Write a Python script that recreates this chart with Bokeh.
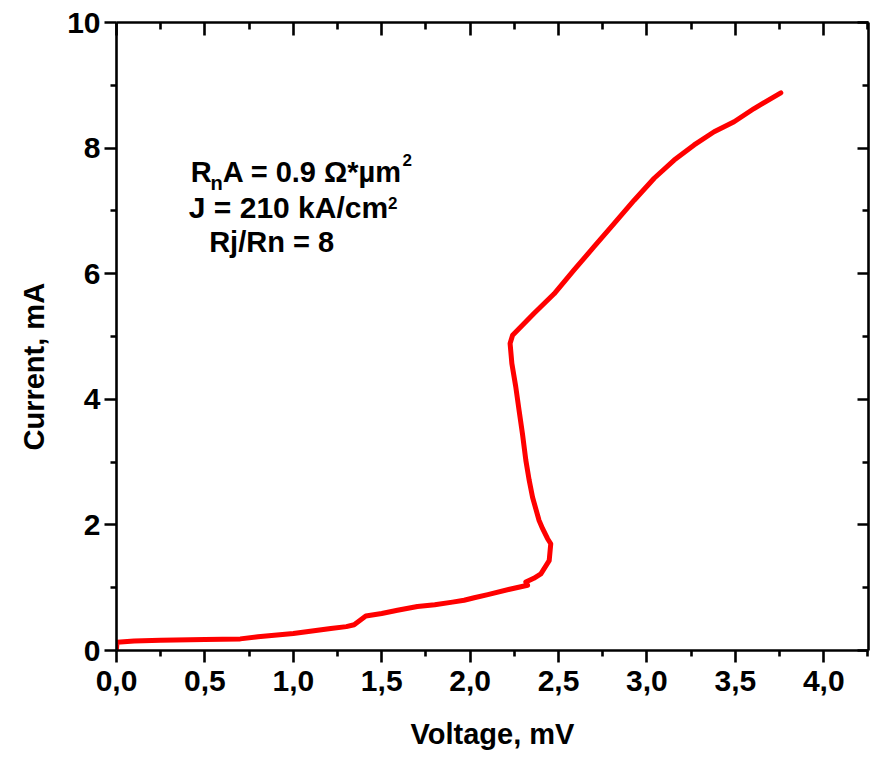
import math
from bokeh.plotting import figure
from bokeh.models import (LinearAxis, FixedTicker, Range1d, Label, Title,
                          CustomJSTickFormatter)
from bokeh.embed import file_html
from bokeh.resources import INLINE

# ---- data ----
voltage = [0.0, 0.003, 0.1, 0.25, 0.5, 0.7, 0.8, 1.0, 1.212, 1.3, 1.344,
           1.41, 1.5, 1.589, 1.702, 1.8, 1.9, 1.966, 2.023, 2.1, 2.23, 2.325,
           2.315, 2.36, 2.40, 2.447, 2.456, 2.438, 2.41, 2.39, 2.353, 2.334,
           2.315, 2.296, 2.277, 2.258, 2.236, 2.226, 2.240, 2.362, 2.475,
           2.588, 2.701, 2.815, 2.928, 3.041, 3.154, 3.267, 3.380, 3.493,
           3.606, 3.757]
current = [0.03, 0.13, 0.15, 0.165, 0.175, 0.185, 0.22, 0.27, 0.35, 0.38,
           0.41, 0.55, 0.59, 0.64, 0.70, 0.73, 0.77, 0.80, 0.84, 0.89, 0.98,
           1.04, 1.09, 1.15, 1.22, 1.43, 1.70, 1.78, 1.94, 2.07, 2.44, 2.71,
           3.03, 3.45, 3.82, 4.20, 4.57, 4.89, 5.02, 5.37, 5.68, 6.06, 6.43,
           6.80, 7.17, 7.52, 7.81, 8.05, 8.26, 8.42, 8.63, 8.88]

x_ticks = [0.0, 0.5, 1.0, 1.5, 2.0, 2.5, 3.0, 3.5, 4.0]
x_tick_labels = ["0,0", "0,5", "1,0", "1,5", "2,0", "2,5", "3,0", "3,5", "4,0"]
x_minor = [0.25, 0.75, 1.25, 1.75, 2.25, 2.75, 3.25, 3.75, 4.25]
y_ticks = [0, 2, 4, 6, 8, 10]
y_tick_labels = ["0", "2", "4", "6", "8", "10"]
y_minor = [1, 3, 5, 7, 9]

x_title = "Voltage, mV"
y_title = "Current, mA"

FONT = "Liberation Sans"
FS = "30px"
TFS = "29px"

p = figure(width=874, height=762, output_backend="svg", toolbar_location=None,
           x_range=Range1d(0, 4.253), y_range=Range1d(0, 10),
           x_axis_type=None, y_axis_type=None,
           min_border_left=116, min_border_right=6, min_border_top=22,
           min_border_bottom=112)
p.outline_line_color = None
p.background_fill_color = "white"
p.border_fill_color = "white"
p.xgrid.visible = False
p.ygrid.visible = False

xt = FixedTicker(ticks=x_ticks, minor_ticks=x_minor)
yt = FixedTicker(ticks=y_ticks, minor_ticks=y_minor)
blank = CustomJSTickFormatter(code="return ''")


def style(ax, tin, tout, mtin, mtout):
    ax.axis_line_width = 2.6
    ax.axis_line_color = "black"
    ax.major_tick_line_width = 2.6
    ax.minor_tick_line_width = 2.6
    ax.major_tick_in = tin
    ax.major_tick_out = tout
    ax.minor_tick_in = mtin
    ax.minor_tick_out = mtout
    ax.major_label_text_font = FONT
    ax.major_label_text_font_style = "bold"
    ax.major_label_text_font_size = FS
    ax.major_label_text_color = "black"


bottom = LinearAxis(ticker=xt, axis_label=x_title,
                    major_label_overrides={t: l for t, l in zip(x_ticks, x_tick_labels)})
style(bottom, 0, 12, 0, 6)
bottom.major_label_standoff = 8
bottom.axis_label_standoff = 24
bottom.axis_label_text_font = FONT
bottom.axis_label_text_font_style = "bold"
bottom.axis_label_text_font_size = TFS
bottom.axis_label_text_color = "black"
p.add_layout(bottom, "below")

left = LinearAxis(ticker=yt,
                  major_label_overrides={t: l for t, l in zip(y_ticks, y_tick_labels)})
style(left, 0, 12, 0, 6)
left.major_label_standoff = 4
p.add_layout(left, "left")

top = LinearAxis(ticker=xt, formatter=blank)
style(top, 13, 0, 7, 0)
p.add_layout(top, "above")

right = LinearAxis(ticker=yt, formatter=blank)
style(right, 11, 0, 6, 0)
p.add_layout(right, "right")

p.line(voltage, current, line_color="#ff0000", line_width=5,
       line_join="round", line_cap="round")

# y-axis title: a side title, shifted along the axis like the reference
p.add_layout(Title(text=y_title, align="left", offset=200, standoff=30,
                   text_font=FONT, text_font_style="bold",
                   text_font_size=TFS, text_color="black"), "left")


def ann(x, y, text, size):
    p.add_layout(Label(x=x, y=y, text=text, text_align="left",
                       text_baseline="alphabetic", text_font=FONT,
                       text_font_style="bold", text_font_size=size,
                       text_color="black"))


ann(0.420, 7.62, "R", "29px")
ann(0.532, 7.44, "n", "20px")
ann(0.601, 7.62, "A = 0.9 Ω*µm", "29px")
ann(1.618, 7.81, "2", "17px")
ann(0.409, 7.055, "J = 210 kA/cm", "30px")
ann(1.535, 7.12, "2", "17px")
ann(0.524, 6.50, "Rj/Rn = 8", "29px")

open("out.html", "w").write(file_html(p, INLINE))
